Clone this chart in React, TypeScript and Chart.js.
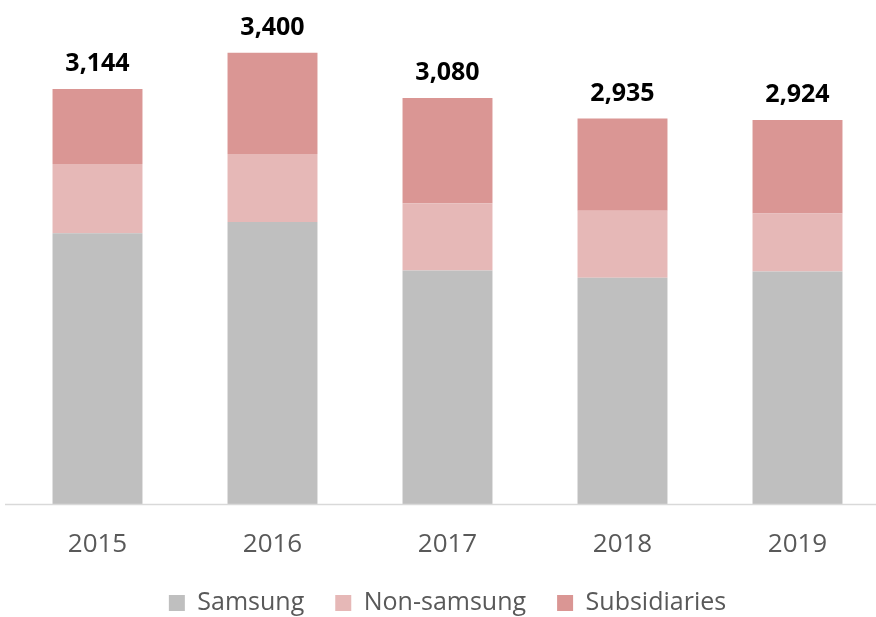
import React, { useEffect, useRef } from "react";
import { Chart, registerables } from "chart.js";

Chart.register(...registerables);

const categories = ["2015", "2016", "2017", "2018", "2019"];
const samsung = [2120, 2200, 1857, 1805, 1850];
const nonSamsung = [491, 482, 477, 475, 411];
const subsidiaries = [533, 718, 746, 655, 663];

const FONT = "'Open Sans', 'Noto Sans', sans-serif";

const totalLabels = {
  id: "totalLabels",
  afterDatasetsDraw(chart: any) {
    const ctx = chart.ctx;
    const n = chart.data.datasets.length;
    const topMeta = chart.getDatasetMeta(n - 1);
    ctx.save();
    ctx.font = `bold 25px ${FONT}`;
    ctx.fillStyle = "#000000";
    ctx.textAlign = "center";
    ctx.textBaseline = "alphabetic";
    topMeta.data.forEach((el: any, i: number) => {
      let sum = 0;
      chart.data.datasets.forEach((ds: any) => (sum += ds.data[i]));
      ctx.fillText(sum.toLocaleString("en-US"), el.x, el.y - 17.5);
    });
    ctx.restore();
  },
};

const axisLine = {
  id: "axisLine",
  afterDatasetsDraw(chart: any) {
    const ctx = chart.ctx;
    const y = chart.chartArea.bottom + 0.5;
    ctx.save();
    ctx.strokeStyle = "#d9d9d9";
    ctx.lineWidth = 1.5;
    ctx.beginPath();
    ctx.moveTo(5, y);
    ctx.lineTo(chart.width, y);
    ctx.stroke();
    ctx.restore();
  },
};

export default function App() {
  const ref = useRef<HTMLCanvasElement>(null);

  useEffect(() => {
    if (!ref.current) return;
    const chart = new Chart(ref.current, {
      type: "bar",
      data: {
        labels: categories,
        datasets: [
          { label: "Samsung", data: samsung, backgroundColor: "#BFBFBF" },
          { label: "Non-samsung", data: nonSamsung, backgroundColor: "#E6B8B7" },
          { label: "Subsidiaries", data: subsidiaries, backgroundColor: "#DA9694" },
        ],
      },
      options: {
        animation: false,
        responsive: false,
        layout: { padding: { left: 10, right: 0, top: 0, bottom: 1.5 } },
        datasets: {
          bar: { barPercentage: 0.514, categoryPercentage: 1 },
        },
        scales: {
          x: {
            stacked: true,
            grid: { display: false, drawTicks: false },
            border: { display: false },
            ticks: {
              color: "#595959",
              font: { family: FONT, size: 26 },
              padding: 25,
            },
            afterFit: (scale: any) => {
              scale.height = 55.5;
            },
          },
          y: {
            stacked: true,
            display: false,
            min: 200,
            max: 3775,
          },
        },
        plugins: {
          tooltip: { enabled: false },
          legend: {
            position: "bottom",
            labels: {
              boxWidth: 16,
              boxHeight: 16,
              padding: 31,
              color: "#595959",
              font: { family: FONT, size: 25 },
            },
          },
        },
      },
      plugins: [totalLabels, axisLine],
    });
    return () => chart.destroy();
  }, []);

  return (
    <div style={{ position: "fixed", left: 0, top: 0, width: 885, height: 627, background: "#fff" }}>
      <canvas ref={ref} width={885} height={627} style={{ width: 885, height: 627, display: "block" }} />
    </div>
  );
}
